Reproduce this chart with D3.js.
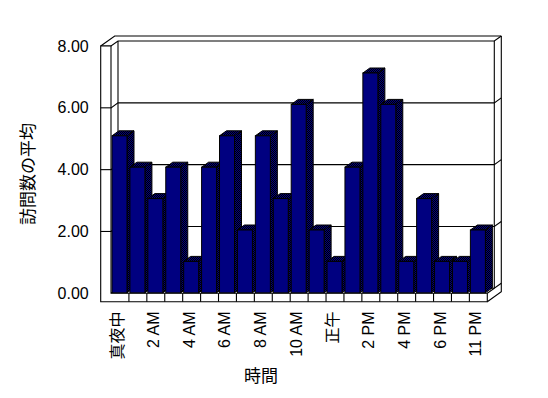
<!DOCTYPE html>
<html>
  <head>
    <meta charset="utf-8">
    <script src="https://d3js.org/d3.v7.min.js"></script>
    <style>
      body { margin: 0; background: #fff; }
      text { font-family: "Liberation Sans", Arial, "Noto Sans CJK JP", sans-serif; fill: #000; }
      .jp { font-family: "Noto Sans CJK JP", sans-serif; }
    </style>
  </head>
  <body>
    <div id="chart"></div>
    <script>
      // Data
      const categories = ["真夜中", "1 AM", "2 AM", "3 AM", "4 AM", "5 AM", "6 AM", "7 AM", "8 AM", "9 AM",
        "10 AM", "11 AM", "正午", "1 PM", "2 PM", "3 PM", "4 PM", "5 PM", "6 PM", "7 PM", "11 PM"];
      const visits = [5, 4, 3, 4, 1, 4, 5, 2, 5, 3, 6, 2, 1, 4, 7, 6, 1, 3, 1, 1, 2];
      const yTicks = [0, 2, 4, 6, 8];
      const yTitle = "訪問数の平均";
      const xTitle = "時間";

      // Layout (3D box)
      const W = 548, H = 398;
      const wallX = 100.7;        // outer left edge of left wall
      const plotL = 111, plotR = 487.3;
      const floorBottom = 301.7;
      const dx = 7, dy = -5;      // depth offset of one slab

      const svg = d3.select("#chart")
        .append("svg")
        .attr("width", W)
        .attr("height", H);

      const defs = svg.append("defs");
      const pat = defs.append("pattern")
        .attr("id", "dither")
        .attr("width", 2).attr("height", 2)
        .attr("patternUnits", "userSpaceOnUse");
      pat.append("rect").attr("width", 2).attr("height", 2).attr("fill", "#000080");
      pat.append("rect").attr("width", 1).attr("height", 1).attr("fill", "#000");
      pat.append("rect").attr("x", 1).attr("y", 1).attr("width", 1).attr("height", 1).attr("fill", "#000");

      // Scales
      const x = d3.scaleBand().domain(categories).range([plotL, plotR]);
      const yFront = d3.scaleLinear().domain([0, 8]).range([293.3, 46]);
      const yBar = d3.scaleLinear().domain([0, 8]).range([292.8, 41.6]);

      const line = (pts) => "M" + pts.map(p => p.join(",")).join("L");
      const walls = svg.append("g")
        .attr("fill", "none")
        .attr("stroke", "#000")
        .attr("stroke-width", 1.1);

      // Back wall, left wall and floor outline
      const yTop = yFront(8);
      walls.append("path").attr("d", line([[wallX, yTop], [wallX + 2 * dx, yTop + 2 * dy], [plotR + 2 * dx, yTop + 2 * dy]]));
      walls.append("path").attr("d", line([[plotR + 2 * dx, yTop + 2 * dy], [plotR + 2 * dx, yFront(0) + 2 * dy + 8.4], [plotR, floorBottom]]));
      walls.append("path").attr("d", line([[plotL + dx, yTop + dy], [plotL + dx, yFront(0) + dy]]));
      walls.append("path").attr("d", line([[plotR + dx, yTop + dy], [plotR + dx, yFront(0) + dy]]));
      walls.append("path").attr("d", line([[plotR, yFront(0)], [plotR + dx, yFront(0) + dy]]));

      // Gridlines on left wall, back wall and wall end
      yTicks.forEach(v => {
        const yf = yFront(v);
        walls.append("path").attr("d", line([
          [wallX, yf], [plotL, yf], [plotL + dx, yf + dy],
          [plotR + dx, yf + dy], [plotR + 2 * dx, yf + 2 * dy]
        ]));
      });

      // Front face of left wall + floor
      walls.append("path")
        .attr("fill", "#fff")
        .attr("d", line([[wallX, yTop], [plotL, yTop], [plotL, yFront(0)], [plotR, yFront(0)],
          [plotR, floorBottom], [wallX, floorBottom]]) + "Z");
      yTicks.slice(1, -1).forEach(v => {
        walls.append("path").attr("d", line([[wallX, yFront(v)], [plotL, yFront(v)]]));
      });
      categories.slice(1).forEach(c => {
        walls.append("path").attr("d", line([[x(c), yFront(0)], [x(c), floorBottom]]));
      });

      // Bars
      const bars = svg.append("g").attr("stroke", "#000").attr("stroke-width", 1);
      categories.forEach((c, i) => {
        const xl = x(c) + 1, xr = x(c) + 16;
        const yt = yBar(visits[i]), yb = yBar(0);
        const g = bars.append("g");
        g.append("path").attr("fill", "url(#dither)")
          .attr("d", line([[xr, yt], [xr + dx, yt + dy], [xr + dx, yb + dy], [xr, yb]]) + "Z");
        g.append("path").attr("fill", "url(#dither)")
          .attr("d", line([[xl, yt], [xl + dx, yt + dy], [xr + dx, yt + dy], [xr, yt]]) + "Z");
        g.append("rect").attr("fill", "#000080")
          .attr("x", xl).attr("y", yt).attr("width", xr - xl).attr("height", yb - yt);
      });

      // Y axis labels
      const yAxis = d3.axisLeft(yFront)
        .tickValues(yTicks)
        .tickFormat(d3.format(".2f"))
        .tickSize(0)
        .tickPadding(12);
      const ya = svg.append("g")
        .attr("transform", `translate(${wallX},0)`)
        .call(yAxis);
      ya.select(".domain").remove();
      ya.selectAll("text").attr("font-size", 16).style("font-family", "'Liberation Sans', Arial, sans-serif");

      // X axis labels (every second category)
      svg.append("g").selectAll("text")
        .data(categories.filter((c, i) => i % 2 === 0))
        .join("text")
        .attr("transform", d => `translate(${x(d) + x.bandwidth() / 2 + 3},311.5) rotate(-90)`)
        .attr("text-anchor", "end")
        .attr("font-size", 16)
        .text(d => d);

      // Titles
      svg.append("text")
        .attr("class", "jp")
        .attr("transform", "translate(34,174) rotate(-90)")
        .attr("text-anchor", "middle")
        .attr("font-size", 17)
        .text(yTitle);

      svg.append("text")
        .attr("class", "jp")
        .attr("x", 261)
        .attr("y", 382)
        .attr("text-anchor", "middle")
        .attr("font-size", 17)
        .text(xTitle);
    </script>
  </body>
</html>
